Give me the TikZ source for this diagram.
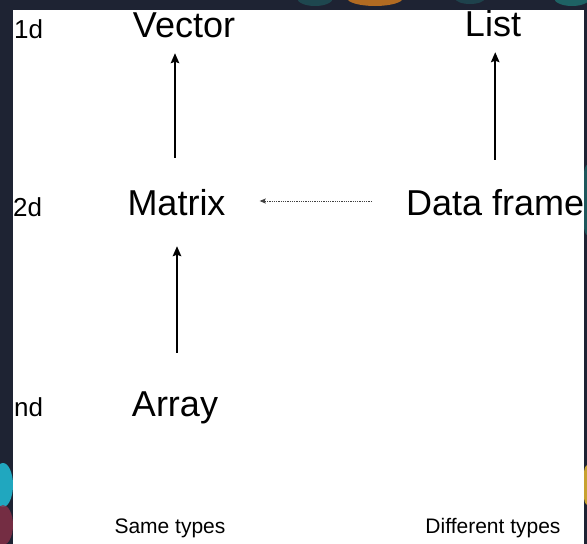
\documentclass[tikz,border=0pt]{standalone}
\usepackage{fontspec}
\setmainfont{Liberation Sans}
\usetikzlibrary{arrows.meta}
\definecolor{bgdark}{HTML}{1E2333}
\definecolor{blobteal}{HTML}{1E8C86}
\definecolor{blobcyan}{HTML}{22D4EE}
\definecolor{bloborange}{HTML}{F08A1C}
\definecolor{blobred}{HTML}{8A3048}
\definecolor{blobyellow}{HTML}{F2C230}
\tikzset{
  big/.style={inner sep=0pt, font=\fontsize{36}{40}\selectfont, text height=26pt, text depth=8pt},
  dimlabel/.style={inner sep=0pt, font=\fontsize{26}{30}\selectfont, anchor=base west},
  foot/.style={inner sep=0pt, font=\fontsize{21}{25}\selectfont, anchor=base},
  arr/.style={line width=1.7pt, -{Stealth[length=10pt,width=8.5pt,inset=1.5pt]}},
  dotarr/.style={line width=0.9pt, draw=black!75, dash pattern=on 0.9pt off 0.9pt,
                 -{Stealth[length=6pt,width=5pt,inset=1pt]}},
}
\begin{document}
\begin{tikzpicture}[x=1pt,y=1pt]
\useasboundingbox (0,0) rectangle (587,-544);
% dark background with colourful blurred patches
\fill[bgdark] (0,0) rectangle (587,-544);
\fill[blobteal,opacity=0.35] (315,2) ellipse (18 and 8);
\fill[bloborange,opacity=0.7] (375,2) ellipse (28 and 8);
\fill[blobteal,opacity=0.3] (470,2) ellipse (15 and 6);
\fill[blobteal,opacity=0.6] (572,2) ellipse (18 and 8);
\fill[blobteal,opacity=0.5] (587,-200) ellipse (5 and 35);
\fill[blobyellow,opacity=0.8] (587,-485) ellipse (4 and 20);
\fill[blobcyan,opacity=0.75] (3,-485) ellipse (10 and 22);
\fill[blobred,opacity=0.8] (3,-525) ellipse (10 and 20);
% white panel
\fill[white] (13,-10) rectangle (583.5,-544);
\begin{scope}
\clip (13,-10) rectangle (583.5,-544);
% row labels
\node[dimlabel] (d1) at (14,-38) {1d};
\node[dimlabel] (d2) at (13,-216) {2d};
\node[dimlabel] (dn) at (14,-416) {nd};
% main nodes
\node[big, anchor=base] (vector) at (184,-37) {Vector};
\node[big, anchor=base] (list) at (493,-36) {List};
\node[big, anchor=base] (matrix) at (176.5,-215) {Matrix};
\node[big, anchor=base west] (dataframe) at (406,-215) {Data frame};
\node[big, anchor=base] (array) at (175,-416) {Array};
% footers
\node[foot] (same) at (170,-533) {Same types};
\node[foot] (diff) at (493,-533) {Different types};
\end{scope}
% connectors
\draw[arr, shorten <=31pt, shorten >=8pt] ([xshift=-1.5pt]matrix.north) -- ([xshift=-1.5pt]matrix.north |- vector.south);
\draw[arr, shorten <=29pt, shorten >=8pt] (dataframe.north) -- (dataframe.north |- list.south);
\draw[arr, shorten <=37pt, shorten >=23pt] ([xshift=2pt]array.north) -- ([xshift=2pt]array.north |- matrix.south);
\draw[dotarr, shorten <=34pt, shorten >=34pt] ([yshift=5pt]dataframe.west) -- ([yshift=5pt]dataframe.west -| matrix.east);
\end{tikzpicture}
\end{document}
